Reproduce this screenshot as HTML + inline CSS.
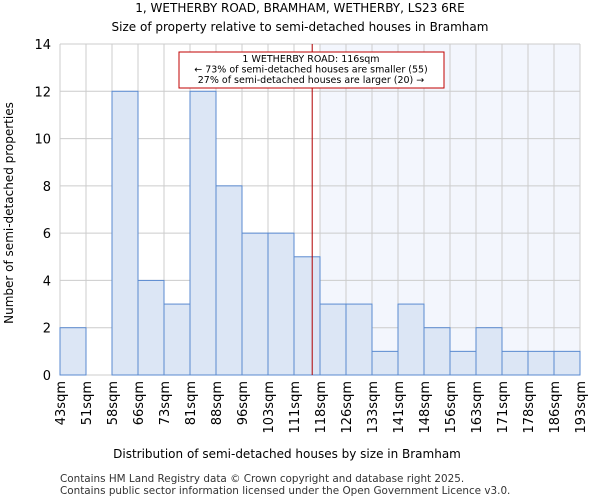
<!DOCTYPE html>
<html><head><meta charset="utf-8"><style>
body{margin:0;background:#fff;font-family:"DejaVu Sans","Liberation Sans",sans-serif;}
</style></head><body>
<svg id="c" width="600" height="500" xmlns="http://www.w3.org/2000/svg" font-family="DejaVu Sans, Liberation Sans, sans-serif">
<text x="300" y="12" text-anchor="middle" font-size="12">1, WETHERBY ROAD, BRAMHAM, WETHERBY, LS23 6RE</text>
<text x="300" y="31" text-anchor="middle" font-size="12">Size of property relative to semi-detached houses in Bramham</text>
<g id="plot"></g>
<text x="287" y="458" text-anchor="middle" font-size="12">Distribution of semi-detached houses by size in Bramham</text>
<text transform="translate(13,213) rotate(-90)" text-anchor="middle" font-size="12">Number of semi-detached properties</text>
<text x="60" y="482" font-size="10.4" fill="#333">Contains HM Land Registry data © Crown copyright and database right 2025.</text>
<text x="60" y="494" font-size="10.4" fill="#333">Contains public sector information licensed under the Open Government Licence v3.0.</text>
</svg>
<script>
const binLabels=["43sqm","51sqm","58sqm","66sqm","73sqm","81sqm","88sqm","96sqm","103sqm","111sqm","118sqm","126sqm","133sqm","141sqm","148sqm","156sqm","163sqm","171sqm","178sqm","186sqm","193sqm"];
const counts=[2,0,12,4,3,12,8,6,6,5,3,3,1,3,2,1,2,1,1,1];
const yTicks=[0,2,4,6,8,10,12,14];
const markerIndex=9.7;
const shadeStartIndex=10;
const NS="http://www.w3.org/2000/svg";
const L=60,R=580,T=44,B=375,ymax=14;
const n=counts.length,bw=(R-L)/n;
const xs=i=>L+i*bw, ys=v=>B-(B-T)*v/ymax;
const g=document.getElementById('plot');
function mk(t,a,p){const e=document.createElementNS(NS,t);for(const k in a)e.setAttribute(k,a[k]);(p||g).appendChild(e);return e;}
let e=mk('rect',{x:xs(shadeStartIndex),y:T,width:R-xs(shadeStartIndex),height:B-T,fill:'#f3f6fd'});


for(let i=0;i<=n;i++){e=mk('line',{x1:xs(i),x2:xs(i),y1:T,y2:B,stroke:'#ccc','stroke-width':1});

}
yTicks.forEach(v=>{e=mk('line',{x1:L,x2:R,y1:ys(v),y2:ys(v),stroke:'#ccc','stroke-width':1});


e=mk('text',{x:L-9,y:ys(v)+5,'text-anchor':'end','font-size':13});e.textContent=v;

});
counts.forEach((c,i)=>{if(c<=0)return;e=mk('rect',{x:xs(i),y:ys(c),width:bw,height:B-ys(c),fill:'#dce6f5',stroke:'#5a8ad0','stroke-width':1});

});
binLabels.forEach((l,i)=>{e=mk('text',{transform:`translate(${xs(i)+5},381) rotate(-90)`,'text-anchor':'end','font-size':13});e.textContent=l;

});
e=mk('line',{x1:xs(markerIndex),x2:xs(markerIndex),y1:T,y2:B,stroke:'#b00000','stroke-width':1});


const ann=mk('g',{});


mk('rect',{x:179,y:52,width:265,height:36,fill:'#fff',stroke:'#c00000','stroke-width':1},ann);
["1 WETHERBY ROAD: 116sqm","← 73% of semi-detached houses are smaller (55)","27% of semi-detached houses are larger (20) →"].forEach((t,k)=>{const x=mk('text',{x:311,y:62+k*10.5,'text-anchor':'middle','font-size':9.5},ann);x.textContent=t;});
</script>
</body></html>
